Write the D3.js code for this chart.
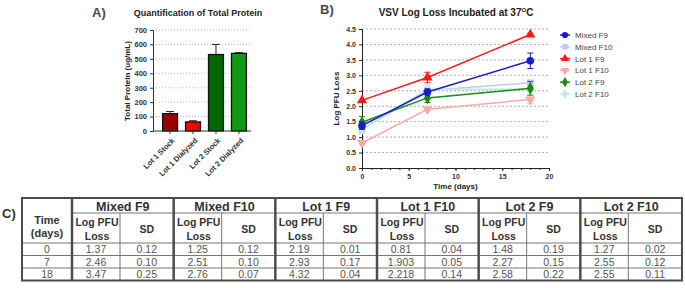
<!DOCTYPE html>
<html>
<head>
<meta charset="utf-8">
<script src="https://cdn.jsdelivr.net/npm/d3@7"></script>
<style>
  body { margin: 0; background: #fff; }
  text { font-family: "Liberation Sans", Arial, sans-serif; }
</style>
</head>
<body>
<script>
// ---- data ----
const barCats = ["Lot 1 Stock", "Lot 1 Dialyzed", "Lot 2 Stock", "Lot 2 Dialyzed"]
const barVals = [120, 63, 530, 538]
const barSD = [15, 8, 70, 5]
const barColors = ["#990000", "#ff0000", "#006600", "#119911"]
const barTicks = [0, 100, 200, 300, 400, 500, 600, 700]

const days = [0, 7, 18]
const seriesNames = ["Mixed F9", "Mixed F10", "Lot 1 F9", "Lot 1 F10", "Lot 2 F9", "Lot 2 F10"]
const mixedF9 = [1.37, 2.46, 3.47]
const mixedF9sd = [0.12, 0.10, 0.25]
const mixedF10 = [1.25, 2.51, 2.76]
const mixedF10sd = [0.12, 0.10, 0.07]
const lot1F9 = [2.19, 2.93, 4.32]
const lot1F9sd = [0.01, 0.17, 0.04]
const lot1F10 = [0.81, 1.903, 2.218]
const lot1F10sd = [0.04, 0.05, 0.14]
const lot2F9 = [1.48, 2.27, 2.58]
const lot2F9sd = [0.19, 0.15, 0.22]
const lot2F10 = [1.27, 2.55, 2.55]
const lot2F10sd = [0.02, 0.12, 0.11]
const seriesColors = ["#1a1acc", "#c4c4ff", "#ff1a1a", "#ffaaaa", "#1a8a1a", "#b8f0dc"]
const seriesSymbols = [d3.symbolCircle, d3.symbolSquare, d3.symbolTriangle, d3.symbolTriangle, d3.symbolDiamond, d3.symbolDiamond]

const series = [
  {vals: mixedF10, sd: mixedF10sd, i: 1},
  {vals: lot2F10, sd: lot2F10sd, i: 5},
  {vals: lot1F10, sd: lot1F10sd, i: 3},
  {vals: lot2F9, sd: lot2F9sd, i: 4},
  {vals: mixedF9, sd: mixedF9sd, i: 0},
  {vals: lot1F9, sd: lot1F9sd, i: 2}
]

const svg = d3.select("body").append("svg")
    .attr("width", 685).attr("height", 288)

// ---- panel A: bar chart ----
let yBar = d3.scaleLinear().domain([0, 700]).range([131, 30])
let xBar = d3.scaleBand().domain(barCats).range([158, 251])
    .paddingInner(0.35).paddingOuter(0.2)

svg.append("text").attr("x", 92).attr("y", 17)
    .style("font-size", "13px").style("font-weight", "bold").attr("fill", "#4a4a4a").text("A)")
svg.append("text").attr("x", 198).attr("y", 16).attr("text-anchor", "middle")
    .style("font-size", "9px").style("font-weight", "bold").attr("fill", "#222")
    .text("Quantification of Total Protein")

svg.append("g").selectAll("line").data(barTicks.slice(1)).enter().append("line")
    .attr("x1", 153).attr("x2", 251)
    .attr("y1", d => yBar(d)).attr("y2", d => yBar(d))
    .attr("stroke", "#aaa").attr("stroke-width", 0.8).attr("stroke-dasharray", "1,2")

let yAxA = svg.append("g").attr("transform", "translate(153,0)")
    .call(d3.axisLeft(yBar).tickValues(barTicks).tickSize(3))
yAxA.selectAll("text").style("font-size", "7.5px").style("font-weight", "bold").attr("fill", "#333")
yAxA.selectAll("line, path").attr("stroke", "#333")

// error bars (up only)
svg.append("g").selectAll("path").data(barCats).enter().append("path")
    .attr("d", (d, i) => {
      let cx = xBar(d) + xBar.bandwidth() / 2
      let top = yBar(barVals[i] + barSD[i])
      return `M${cx},${yBar(barVals[i])}V${top}M${cx - 4},${top}H${cx + 4}`
    })
    .attr("stroke", "#222").attr("stroke-width", 1).attr("fill", "none")

svg.append("g").selectAll("rect").data(barCats).enter().append("rect")
    .attr("x", d => xBar(d))
    .attr("y", (d, i) => yBar(barVals[i]))
    .attr("width", xBar.bandwidth())
    .attr("height", (d, i) => yBar(0) - yBar(barVals[i]))
    .attr("fill", (d, i) => barColors[i])
    .attr("stroke", "#111").attr("stroke-width", 1.3)

let xAxA = svg.append("g").attr("transform", "translate(0,131)")
    .call(d3.axisBottom(xBar).tickSize(3).tickSizeOuter(0))
xAxA.select("path").attr("d", "M153,0H251").attr("stroke", "#333")
xAxA.selectAll("line").attr("stroke", "#333")
xAxA.selectAll("text")
    .attr("transform", "translate(-3,2)rotate(-45)")
    .style("text-anchor", "end").style("font-size", "7.5px").style("font-weight", "bold").attr("fill", "#333")

svg.append("text")
    .attr("transform", "translate(130,81)rotate(-90)")
    .attr("text-anchor", "middle")
    .style("font-size", "8px").style("font-weight", "bold").attr("fill", "#222")
    .text("Total  Protein (ug/mL)")

// ---- panel B: line chart ----
let xL = d3.scaleLinear().domain([0, 20]).range([362, 549])
let yL = d3.scaleLinear().domain([0, 4.5]).range([168, 29])

svg.append("text").attr("x", 320).attr("y", 14)
    .style("font-size", "13px").style("font-weight", "bold").attr("fill", "#4a4a4a").text("B)")
let title = svg.append("text").attr("x", 456).attr("y", 16).attr("text-anchor", "middle")
    .style("font-size", "10px").style("font-weight", "bold").attr("fill", "#222")
title.append("tspan").text("VSV Log Loss Incubated at 37")
title.append("tspan").attr("dy", -4).style("font-size", "6px").text("O")
title.append("tspan").attr("dy", 4).text("C")

let yGrid = d3.range(1, 10).map(d => d * 0.5)
svg.append("g").selectAll("line").data(yGrid).enter().append("line")
    .attr("x1", xL(0)).attr("x2", xL(20))
    .attr("y1", d => yL(d)).attr("y2", d => yL(d))
    .attr("stroke", "#999").attr("stroke-width", 0.8).attr("stroke-dasharray", "2,2")

let yAxB = svg.append("g").attr("transform", `translate(${xL(0)},0)`)
    .call(d3.axisLeft(yL).tickValues(d3.range(0, 10).map(d => d * 0.5)).tickFormat(d3.format(".1f")).tickSize(3))
yAxB.selectAll("text").style("font-size", "7px").style("font-weight", "bold").attr("fill", "#333")
yAxB.selectAll("line, path").attr("stroke", "#222")

let xAxB = svg.append("g").attr("transform", `translate(0,${yL(0)})`)
    .call(d3.axisBottom(xL).tickValues([0, 5, 10, 15, 20]).tickSize(3).tickSizeOuter(0))
xAxB.selectAll("text").style("font-size", "7px").style("font-weight", "bold").attr("fill", "#333")
xAxB.selectAll("line, path").attr("stroke", "#222")
svg.append("g").attr("transform", `translate(0,${yL(0)})`)
    .call(d3.axisBottom(xL).tickValues(d3.range(0, 21)).tickSize(2).tickFormat(""))
    .call(g => g.select("path").remove())
    .selectAll("line").attr("stroke", "#222")

svg.append("text")
    .attr("transform", `translate(339,${yL(2.25)})rotate(-90)`)
    .attr("text-anchor", "middle")
    .style("font-size", "8px").style("font-weight", "bold").attr("fill", "#222")
    .text("Log PFU Loss")
svg.append("text").attr("x", xL(10)).attr("y", 189).attr("text-anchor", "middle")
    .style("font-size", "8px").style("font-weight", "bold").attr("fill", "#222")
    .text("Time (days)")

let line = d3.line().x((d, j) => xL(days[j])).y(d => yL(d))
let symRot = i => (i === 3 ? "rotate(180)" : "")

series.forEach(s => {
  let col = seriesColors[s.i]
  let g = svg.append("g")
  g.append("path").datum(s.vals).attr("d", line)
      .attr("fill", "none").attr("stroke", col).attr("stroke-width", 1.5)
  g.selectAll("path.err").data(s.vals).enter().append("path")
      .attr("d", (d, j) => {
        let cx = xL(days[j]), t = yL(d + s.sd[j]), b = yL(d - s.sd[j])
        return `M${cx},${t}V${b}M${cx - 3},${t}H${cx + 3}M${cx - 3},${b}H${cx + 3}`
      })
      .attr("stroke", col).attr("stroke-width", 1).attr("fill", "none")
  g.selectAll("path.sym").data(s.vals).enter().append("path")
      .attr("d", d3.symbol().type(seriesSymbols[s.i]).size(45))
      .attr("transform", (d, j) => `translate(${xL(days[j])},${yL(d)})${symRot(s.i)}`)
      .attr("fill", col)
})

// legend
let leg = svg.append("g").selectAll("g").data(seriesNames).enter().append("g")
    .attr("transform", (d, i) => `translate(565,${35 + i * 11.8})`)
leg.append("line").attr("x1", -5).attr("x2", 5)
    .attr("stroke", (d, i) => seriesColors[i]).attr("stroke-width", 1.5)
leg.append("path").attr("d", (d, i) => d3.symbol().type(seriesSymbols[i]).size(30)())
    .attr("transform", (d, i) => symRot(i))
    .attr("fill", (d, i) => seriesColors[i])
leg.append("text").attr("x", 10).attr("y", 3)
    .style("font-size", "8px").attr("fill", "#444").text(d => d)

// ---- panel C: table ----
const tblTime = ["0", "7", "18"]
const tblVals = [
  ["1.37", "0.12", "1.25", "0.12", "2.19", "0.01", "0.81", "0.04", "1.48", "0.19", "1.27", "0.02"],
  ["2.46", "0.10", "2.51", "0.10", "2.93", "0.17", "1.903", "0.05", "2.27", "0.15", "2.55", "0.12"],
  ["3.47", "0.25", "2.76", "0.07", "4.32", "0.04", "2.218", "0.14", "2.58", "0.22", "2.55", "0.11"]
]

svg.append("text").attr("x", 2).attr("y", 218)
    .style("font-size", "13px").style("font-weight", "bold").attr("fill", "#333").text("C)")

let tL = 22, tR = 682, tTop = 198, h1 = 213
let rowY = [243, 255.5, 268, 280.5]
let colT = 72
let grpW = (tR - colT) / 6
let grpX = d3.range(7).map(i => colT + i * grpW)
let splitOff = 48

let tbl = svg.append("g")
// thin lines
let thin = []
rowY.slice(0, 3).forEach(y => thin.push([tL, y, tR, y]))
thin.push([colT, h1, tR, h1])
d3.range(6).forEach(i => thin.push([grpX[i] + splitOff, h1, grpX[i] + splitOff, rowY[3]]))
tbl.selectAll("line.thin").data(thin).enter().append("line")
    .attr("x1", d => d[0]).attr("y1", d => d[1]).attr("x2", d => d[2]).attr("y2", d => d[3])
    .attr("stroke", "#777").attr("stroke-width", 1)
// thick group separators
tbl.selectAll("line.thick").data(grpX.slice(0, 6)).enter().append("line")
    .attr("x1", d => d).attr("x2", d => d).attr("y1", tTop).attr("y2", rowY[3])
    .attr("stroke", "#4d4d4d").attr("stroke-width", 2.5)
tbl.append("rect").attr("x", tL).attr("y", tTop).attr("width", tR - tL).attr("height", rowY[3] - tTop)
    .attr("fill", "none").attr("stroke", "#4d4d4d").attr("stroke-width", 2)

let bold = sel => sel.style("font-weight", "bold").attr("fill", "#333").attr("text-anchor", "middle")
bold(tbl.append("text").attr("x", (tL + colT) / 2).attr("y", 224).style("font-size", "11px")).text("Time")
bold(tbl.append("text").attr("x", (tL + colT) / 2).attr("y", 237).style("font-size", "11px")).text("(days)")
seriesNames.forEach((n, i) => {
  bold(tbl.append("text").attr("x", grpX[i] + grpW / 2).attr("y", 210.5).style("font-size", "12.5px")).text(n)
  bold(tbl.append("text").attr("x", grpX[i] + splitOff / 2 + 1).attr("y", 226).style("font-size", "10.5px")).text("Log PFU")
  bold(tbl.append("text").attr("x", grpX[i] + splitOff / 2 + 1).attr("y", 240).style("font-size", "10.5px")).text("Loss")
  bold(tbl.append("text").attr("x", grpX[i] + splitOff + (grpW - splitOff) / 2).attr("y", 233).style("font-size", "10.5px")).text("SD")
})
tblTime.forEach((t, r) => {
  tbl.append("text").attr("x", (tL + colT) / 2).attr("y", rowY[r] + 10.3).attr("text-anchor", "middle")
      .style("font-size", "10.5px").attr("fill", "#555").text(t)
  tblVals[r].forEach((v, c) => {
    let g = Math.floor(c / 2)
    let cx = c % 2 === 0 ? grpX[g] + splitOff / 2 : grpX[g] + splitOff + (grpW - splitOff) / 2
    tbl.append("text").attr("x", cx).attr("y", rowY[r] + 10.3).attr("text-anchor", "middle")
        .style("font-size", "10.5px").attr("fill", "#555").text(v)
  })
})
</script>
</body>
</html>
